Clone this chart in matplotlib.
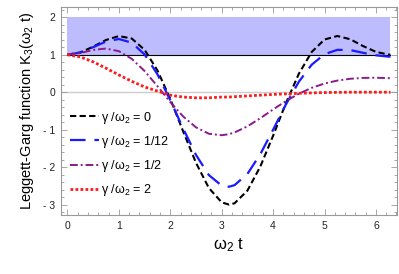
import numpy as np
import matplotlib
matplotlib.use("Agg")
import matplotlib.pyplot as plt
from matplotlib.ticker import MultipleLocator

plt.rcParams['font.family'] = ['Liberation Sans', 'DejaVu Sans']
plt.rcParams['mathtext.fontset'] = 'custom'
plt.rcParams['mathtext.rm'] = 'Liberation Sans'
plt.rcParams['mathtext.it'] = 'Liberation Sans'

# omega_2 t values
t = [0, 0.25, 0.5, 0.75, 1.0, 1.25, 1.5, 1.75, 2.0, 2.25, 2.5, 2.75, 3.0, np.pi,
     3.25, 3.5, 3.75, 4.0, 4.25, 4.5, 4.75, 5.0, 5.25, 5.5, 5.75, 6.0, 6.25, 2 * np.pi]

# K3 for each gamma/omega_2
k_g0 = [1.0, 1.06, 1.215, 1.393, 1.497, 1.432, 1.131, 0.58, -0.179, -1.046, -1.886, -2.557, -2.94, -3.0,
        -2.965, -2.627, -1.988, -1.162, -0.29, 0.49, 1.072, 1.406, 1.5, 1.413, 1.231, 1.076, 1.002, 1.0]
k_g12 = [1.0, 1.058, 1.201, 1.352, 1.419, 1.321, 1.007, 0.478, -0.212, -0.969, -1.674, -2.212, -2.495, -2.524,
         -2.481, -2.182, -1.657, -1.002, -0.325, 0.277, 0.733, 1.014, 1.13, 1.124, 1.051, 0.984, 0.948, 0.947]
k_g2 = [1.0, 1.045, 1.128, 1.165, 1.094, 0.89, 0.565, 0.16, -0.264, -0.648, -0.939, -1.109, -1.149, -1.12,
        -1.075, -0.912, -0.696, -0.461, -0.236, -0.041, 0.116, 0.231, 0.31, 0.358, 0.381, 0.386, 0.374, 0.373]
k_g20 = [1.0, 0.94, 0.81, 0.64, 0.46, 0.29, 0.14, 0.03, -0.08, -0.13, -0.15, -0.15, -0.13, -0.13,
         -0.12, -0.10, -0.08, -0.06, -0.045, -0.03, -0.02, -0.01, -0.005, 0.0, 0.0, 0.0, 0.0, 0.0]

labels = [r"γ /ω$_2$ = 0", r"γ /ω$_2$ = 1/12", r"γ /ω$_2$ = 1/2", r"γ /ω$_2$ = 2"]

fig = plt.figure(figsize=(3.99, 2.74), dpi=100)
ax = fig.add_axes([0.153, 0.215, 0.842, 0.759])

# violation region and classical bound
ax.fill_between([0, 2 * np.pi], 1, 2, color='#bcbcff', lw=0, zorder=0)
ax.axhline(0, color='#cccccc', lw=1.0, zorder=0.5)
ax.plot([0, 2 * np.pi], [1, 1], color='black', lw=0.8, zorder=1)

ax.plot(t, k_g0, color='black', lw=1.5, dashes=(3, 1.6), label=labels[0])
ax.plot(t, k_g12, color='#1a1aff', lw=1.6, dashes=(7, 4), label=labels[1])
ax.plot(t, k_g2, color='#8b1a8b', lw=1.4, dashes=(4, 1.5, 1, 1.5), label=labels[2])
ax.plot(t, k_g20, color='#ff1a1a', lw=2.0, dashes=(1, 0.8), label=labels[3])

ax.set_xlim(-0.125, 6.41)
ax.set_ylim(-3.28, 2.27)

ax.xaxis.set_major_locator(MultipleLocator(1))
ax.xaxis.set_minor_locator(MultipleLocator(0.2))
ax.yaxis.set_major_locator(MultipleLocator(1))
ax.yaxis.set_minor_locator(MultipleLocator(0.2))
ax.set_yticks([-3, -2, -1, 0, 1, 2])
ax.set_yticklabels(["- 3", "- 2", "- 1", "0", "1", "2"])

ax.tick_params(which='both', direction='in', top=True, right=True, color='#999999',
               labelsize=7.5, labelcolor='#222222', width=0.6)
ax.tick_params(which='major', length=4, pad=4)
ax.tick_params(which='minor', length=2)
for s in ax.spines.values():
    s.set_color('#999999')
    s.set_linewidth(0.8)

ax.set_ylabel(r"Leggett-Garg function K$_3$(ω$_2$ t)", fontsize=10.5, labelpad=5)
ax.set_xlabel(r"ω$_2$ t", fontsize=12, labelpad=4)

ax.legend(loc='lower left', bbox_to_anchor=(0.0, 0.04), frameon=False, fontsize=9,
          handlelength=2.3, handletextpad=0.2, labelspacing=0.65, borderaxespad=0.3)

fig.savefig("out.png", dpi=100)
